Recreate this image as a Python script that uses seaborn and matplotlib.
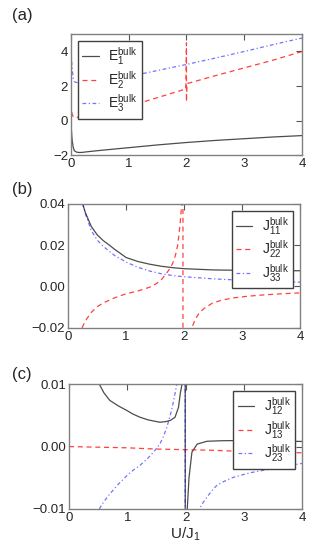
import matplotlib
matplotlib.use('Agg')
import matplotlib.pyplot as plt
import seaborn as sns

# panel (a): bulk energies
e1_x = [0.0, 0.01, 0.02, 0.04, 0.06, 0.1, 0.15, 0.2, 0.3, 0.5, 1.0, 1.5, 2.0, 2.5, 3.0, 3.5, 4.0]
e1_y = [0.0, -0.6, -1.1, -1.55, -1.75, -1.83, -1.85, -1.84, -1.8, -1.73, -1.57, -1.41, -1.27, -1.15, -1.05, -0.95, -0.87]
e2_x = [0.0, 0.01, 0.02, 0.04, 0.06, 0.1, 0.3, 0.5, 1.0, 1.5, 1.99, 2.0, 2.0, 2.01, 2.5, 3.0, 3.5, 4.0]
e2_y = [1.0, 0.6, 0.4, 0.22, 0.17, 0.18, 0.35, 0.47, 0.82, 1.33, 1.83, 4.5, 1.1, 2.14, 2.6, 3.05, 3.5, 4.0]
e3_x = [0.0, 0.01, 0.02, 0.04, 0.06, 0.1, 0.5, 1.0, 1.5, 2.0, 2.5, 3.0, 3.5, 4.0]
e3_y = [4.0, 3.6, 3.1, 2.45, 2.25, 2.2, 2.3, 2.55, 2.9, 3.25, 3.62, 4.0, 4.4, 4.78]

# panel (b): diagonal couplings
j11_x = [0.25, 0.3, 0.4, 0.5, 0.6, 0.71, 0.8, 1.0, 1.2, 1.4, 1.6, 1.8, 2.0, 2.5, 3.0, 3.5, 4.0]
j11_y = [0.040, 0.0355, 0.0290, 0.0250, 0.0223, 0.0200, 0.0180, 0.0140, 0.0121, 0.0108, 0.0098, 0.0091, 0.0086, 0.0080, 0.0078, 0.0077, 0.0076]
j22_x = [0.24, 0.3, 0.4, 0.5, 0.6, 0.8, 1.0, 1.2, 1.4, 1.5, 1.6, 1.7, 1.75, 1.8, 1.85, 1.89, 1.93, 1.96, 1.98, 1.98,
         2.13, 2.2, 2.26, 2.35, 2.49, 2.65, 2.83, 3.1, 3.4, 3.7, 4.0]
j22_y = [-0.020, -0.0165, -0.0125, -0.0098, -0.0080, -0.0055, -0.0035, -0.0022, -0.0004, 0.0010, 0.0030, 0.0065, 0.0085,
         0.0110, 0.0150, 0.0200, 0.0300, 0.0400, 0.2, -0.2,
         -0.020, -0.0155, -0.0128, -0.0105, -0.0080, -0.0066, -0.0056, -0.0047, -0.0040, -0.0035, -0.0031]
j33_x = [0.25, 0.3, 0.4, 0.5, 0.6, 0.8, 1.0, 1.2, 1.4, 1.6, 1.8, 2.0, 2.5, 3.0, 3.5, 4.0]
j33_y = [0.040, 0.035, 0.027, 0.0225, 0.0195, 0.0150, 0.0118, 0.0093, 0.0075, 0.0062, 0.0053, 0.0047, 0.0037, 0.0030, 0.0025, 0.0021]

# panel (c): off-diagonal couplings
j12_x = [0.52, 0.6, 0.7, 0.85, 0.99, 1.1, 1.22, 1.35, 1.45, 1.56, 1.66, 1.74, 1.82, 1.88, 1.91, 1.94, 1.99, 2.0,
         2.03, 2.06, 2.11, 2.2, 2.37, 2.6, 2.83, 3.2, 3.6, 4.0]
j12_y = [0.0100, 0.0086, 0.0074, 0.0065, 0.0058, 0.0052, 0.0047, 0.0043, 0.0041, 0.0039, 0.0040, 0.0042, 0.0047, 0.0063,
         0.0085, 0.0100, 0.5, -0.5,
         -0.0100, -0.0050, -0.0009, 0.0004, 0.00085, 0.00093, 0.00096, 0.00093, 0.00088, 0.00082]
j13_x = [0.0, 0.5, 1.0, 1.5, 2.0, 2.5, 3.0, 3.5, 4.0]
j13_y = [0.0, -0.0001, -0.0002, -0.0004, -0.0005, -0.0006, -0.0008, -0.0009, -0.0010]
j23_x = [0.52, 0.6, 0.7, 0.85, 1.0, 1.1, 1.22, 1.35, 1.45, 1.56, 1.62, 1.68, 1.76, 1.81, 1.85, 1.99, 2.0,
         2.24, 2.3, 2.37, 2.45, 2.54, 2.68, 2.83, 3.11, 3.4, 3.7, 4.0]
j23_y = [-0.0100, -0.0088, -0.0076, -0.0060, -0.0046, -0.0038, -0.0030, -0.0019, -0.0009, 0.0004, 0.0016, 0.0031,
         0.0058, 0.0080, 0.0100, 0.5, -0.5,
         -0.0100, -0.0090, -0.0081, -0.0071, -0.0062, -0.0055, -0.0049, -0.0042, -0.0037, -0.0032, -0.0027]

sns.set_style("white")
plt.rcParams['font.family'] = ['Liberation Sans', 'DejaVu Sans']
plt.rcParams['mathtext.fontset'] = 'custom'
plt.rcParams['mathtext.rm'] = 'Liberation Sans'
plt.rcParams['mathtext.it'] = 'Liberation Sans'

fig = plt.figure(figsize=(3.11, 5.52), dpi=100)
ax_a = fig.add_axes([0.228, 0.719, 0.743, 0.219])
ax_b = fig.add_axes([0.219, 0.406, 0.746, 0.225])
ax_c = fig.add_axes([0.222, 0.078, 0.749, 0.226])

blk = dict(color='k', alpha=0.7, lw=0.9, linestyle='-')
red = dict(color='r', alpha=0.75, lw=0.9, linestyle=(0, (4, 3)))
blu = dict(color='b', alpha=0.55, lw=0.9, linestyle=(0, (3, 2, 1, 2)))


def draw(ax, x, y, lab, st):
    sns.lineplot(x=x, y=y, ax=ax, sort=False, estimator=None, label=lab, **st)


draw(ax_a, e1_x, e1_y, r'$\mathrm{E}_{1}^{\mathrm{bulk}}$', blk)
draw(ax_a, e2_x, e2_y, r'$\mathrm{E}_{2}^{\mathrm{bulk}}$', red)
draw(ax_a, e3_x, e3_y, r'$\mathrm{E}_{3}^{\mathrm{bulk}}$', blu)

draw(ax_b, j11_x, j11_y, r'$\mathrm{J}_{11}^{\mathrm{bulk}}$', blk)
draw(ax_b, j22_x, j22_y, r'$\mathrm{J}_{22}^{\mathrm{bulk}}$', red)
draw(ax_b, j33_x, j33_y, r'$\mathrm{J}_{33}^{\mathrm{bulk}}$', blu)

draw(ax_c, j12_x, j12_y, r'$\mathrm{J}_{12}^{\mathrm{bulk}}$', blk)
draw(ax_c, j13_x, j13_y, r'$\mathrm{J}_{13}^{\mathrm{bulk}}$', red)
draw(ax_c, j23_x, j23_y, r'$\mathrm{J}_{23}^{\mathrm{bulk}}$', blu)

ax_a.set_ylim(-2, 5)
ax_a.set_yticks([-2, 0, 2, 4])
ax_b.set_ylim(-0.02, 0.04)
ax_b.set_yticks([-0.02, 0.0, 0.02, 0.04])
ax_c.set_ylim(-0.01, 0.01)
ax_c.set_yticks([-0.01, 0.0, 0.01])

for ax in (ax_a, ax_b, ax_c):
    ax.set_xlim(0, 4)
    ax.set_xticks([0, 1, 2, 3, 4])
    ax.tick_params(direction='in', length=4, width=0.8, labelsize=9.5, top=True, right=True,
                   color='#555555', pad=2)
    for sp in ax.spines.values():
        sp.set_color('#808080')
        sp.set_linewidth(1.0)

leg_kw = dict(fontsize=10, frameon=True, fancybox=False, edgecolor='#404040', framealpha=1,
              borderaxespad=0.5, handlelength=1.2, handletextpad=0.7, labelspacing=0.12, borderpad=0.3)
ax_a.legend(loc='upper left', **leg_kw)
ax_b.legend(loc='upper right', **leg_kw)
ax_c.legend(loc='upper right', **leg_kw)

ax_c.set_xlabel(r'U/J$_1$', fontsize=11, labelpad=1)

fig.text(0.04, 0.972, '(a)', fontsize=12, va='center')
fig.text(0.04, 0.656, '(b)', fontsize=12, va='center')
fig.text(0.04, 0.322, '(c)', fontsize=12, va='center')

fig.savefig('out.png', dpi=100, facecolor='white')
